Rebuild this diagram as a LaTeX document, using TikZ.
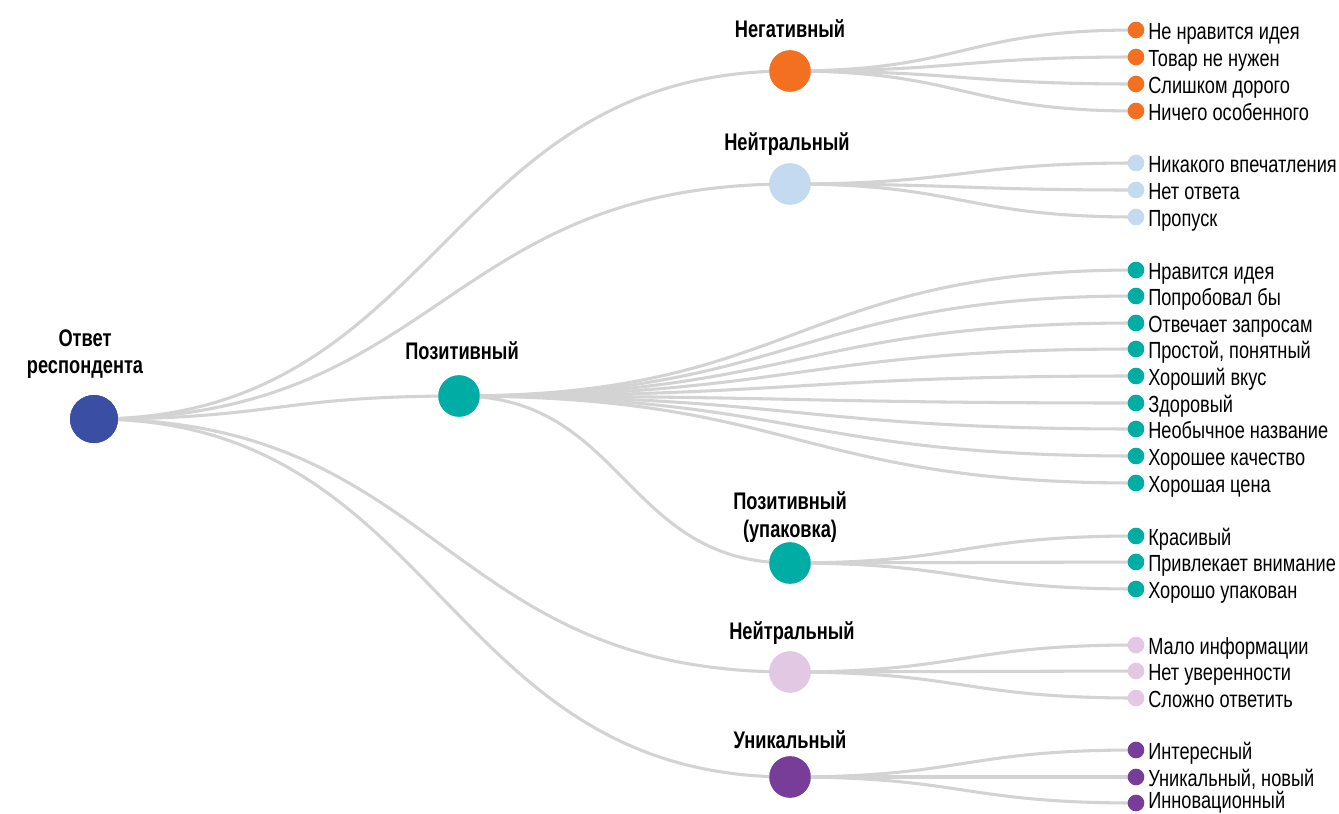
\documentclass[tikz,border=0pt]{standalone}
\usepackage{fontspec}
\setmainfont[FakeStretch=0.78]{Liberation Sans}
\newfontfamily\catfont[FakeStretch=0.76]{Liberation Sans}
\usetikzlibrary{calc}
\definecolor{cRoot}{HTML}{3A4FA3}
\definecolor{cNeg}{HTML}{F37021}
\definecolor{cNeuA}{HTML}{C4DAF0}
\definecolor{cPos}{HTML}{00ADA5}
\definecolor{cNeuB}{HTML}{E2C8E2}
\definecolor{cUni}{HTML}{773D98}
\definecolor{cLine}{HTML}{D3D3D3}
\tikzset{
  rootdot/.style={circle,inner sep=0pt,minimum size=36pt,fill=cRoot},
  catdot/.style={circle,inner sep=0pt,minimum size=31pt,fill=#1},
  leafdot/.style={circle,inner sep=0pt,minimum size=12.5pt,fill=#1},
  cattext/.style={font=\catfont\fontsize{18}{20.5}\selectfont\bfseries,align=center,inner sep=0pt},
  leaftext/.style={font=\fontsize{17.5}{20}\selectfont,inner sep=0pt,anchor=base west},
  link/.style={draw=cLine,line width=2.3pt},
}
\newcommand{\lnk}[3]{\draw[link] (#1.center) .. controls +(#3,0) and +(-#3,0) .. (#2.center);}
\begin{document}
\begin{tikzpicture}[x=0.75pt,y=-0.75pt]
\useasboundingbox (0,0) rectangle (1339,814);
% category nodes
\node[rootdot] (root) at (94,419) {};
\node[catdot=cNeg] (neg) at (790,71) {};
\node[catdot=cNeuA] (neua) at (790,184) {};
\node[catdot=cPos] (pos) at (459,396) {};
\node[catdot=cPos] (pack) at (790,563) {};
\node[catdot=cNeuB] (neub) at (790,672) {};
\node[catdot=cUni] (uni) at (790,777) {};
% labels
\node[cattext] (troot) at (85,354) {Ответ\\респондента};
\node[cattext] (tneg) at (790,29) {Негативный};
\node[cattext] (tneua) at (787,144) {Нейтральный};
\node[cattext] (tpos) at (462,351) {Позитивный};
\node[cattext] (tpack) at (790,517) {Позитивный\\(упаковка)};
\node[cattext] (tneub) at (792,633) {Нейтральный};
\node[cattext] (tuni) at (790,740) {Уникальный};
\def\leaflist{
  n1/30/9.5/cNeg/Не нравится идея,
  n2/57/9.5/cNeg/Товар не нужен,
  n3/84/9.5/cNeg/Слишком дорого,
  n4/111/9.5/cNeg/Ничего особенного,
  a1/163/9.5/cNeuA/Никакого впечатления,
  a2/190/9.5/cNeuA/Нет ответа,
  a3/217/9.5/cNeuA/Пропуск,
  p1/270/9.5/cPos/Нравится идея,
  p2/296/9.5/cPos/Попробовал бы,
  p3/323/9.5/cPos/Отвечает запросам,
  p4/349/9.5/cPos/{Простой, понятный},
  p5/376/9.5/cPos/Хороший вкус,
  p6/403/9.5/cPos/Здоровый,
  p7/429/9.5/cPos/Необычное название,
  p8/456/9.5/cPos/Хорошее качество,
  p9/483/9.5/cPos/Хорошая цена,
  k1/536/9.5/cPos/Красивый,
  k2/562/9.5/cPos/Привлекает внимание,
  k3/589/9.5/cPos/Хорошо упакован,
  b1/645/9.5/cNeuB/Мало информации,
  b2/671/9.5/cNeuB/Нет уверенности,
  b3/698/9.5/cNeuB/Сложно ответить,
  u1/750/9.5/cUni/Интересный,
  u2/777/9.5/cUni/{Уникальный, новый},
  u3/803/5.5/cUni/Инновационный}
\foreach \n/\y/\o/\c/\t in \leaflist { \coordinate (\n) at (1136,\y); }
% links
\lnk{root}{neg}{348}
\lnk{root}{neua}{348}
\lnk{root}{pos}{182.5}
\lnk{root}{neub}{348}
\lnk{root}{uni}{348}
\lnk{pos}{pack}{165.5}
\foreach \l in {n1,n2,n3,n4}{\lnk{neg}{\l}{173}}
\foreach \l in {a1,a2,a3}{\lnk{neua}{\l}{173}}
\foreach \l in {p1,p2,p3,p4,p5,p6,p7,p8,p9}{\lnk{pos}{\l}{338.5}}
\foreach \l in {k1,k2,k3}{\lnk{pack}{\l}{173}}
\foreach \l in {b1,b2,b3}{\lnk{neub}{\l}{173}}
\foreach \l in {u1,u2,u3}{\lnk{uni}{\l}{173}}
% dots on top
\node[rootdot] at (root) {};
\node[catdot=cNeg] at (neg) {};
\node[catdot=cNeuA] at (neua) {};
\node[catdot=cPos] at (pos) {};
\node[catdot=cPos] at (pack) {};
\node[catdot=cNeuB] at (neub) {};
\node[catdot=cUni] at (uni) {};
\foreach \n/\y/\o/\c/\t in \leaflist {
  \node[leafdot=\c] (d\n) at (\n) {};
  \node[leaftext] (t\n) at (1148,\y+\o) {\t};
}
\end{tikzpicture}
\end{document}
